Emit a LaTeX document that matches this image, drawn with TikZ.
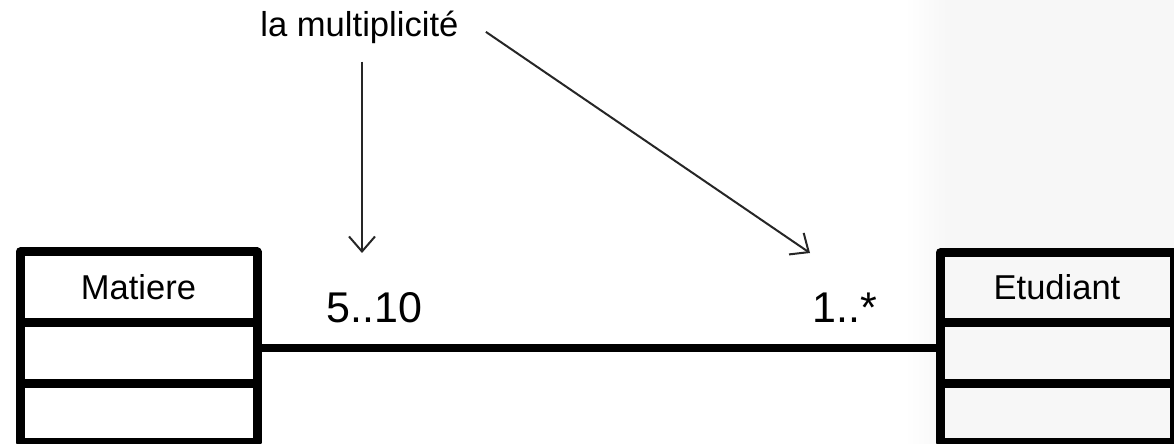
\documentclass[tikz,border=0pt]{standalone}
\usepackage{fontspec}
\setmainfont{Liberation Sans}
\usetikzlibrary{positioning,arrows.meta}
\begin{document}
\begin{tikzpicture}[x=0.5pt, y=-0.5pt, line join=round,
          cls/.style={draw, line width=4.5pt, inner sep=0pt, outer sep=0pt,
            minimum width=118.5pt, font=\fontsize{17.25pt}{20pt}\selectfont},
          mult/.style={anchor=base west, inner sep=0pt, font=\fontsize{21.5pt}{25pt}\selectfont},
          notetxt/.style={anchor=base west, inner sep=0pt, font=\fontsize{17.3pt}{20pt}\selectfont},
          assoc/.style={line width=4pt},
          pointer/.style={line width=1pt, black!85, -{Straight Barb[length=7.5pt, width=13pt, line width=1pt]}}]
        \useasboundingbox (0,0) rectangle (1174,444);
        % light grey band on the right
        \shade[left color=white, right color=black!3] (905,0) rectangle (945,444);
        \fill[black!3] (945,0) rectangle (1174,444);
        % classes
        \node[cls, minimum height=35pt] (matiere) at (138.5,287) {Matiere};
        \node[cls, minimum height=30.5pt, below=0pt of matiere] (matiereattr) {};
        \node[cls, minimum height=29.5pt, below=0pt of matiereattr] (matiereops) {};
        \node[cls, minimum width=117pt, minimum height=34.5pt] (etudiant) at (1057,287.5) {Etudiant};
        \node[cls, minimum width=117pt, minimum height=30.5pt, below=0pt of etudiant] (etudiantattr) {};
        \node[cls, minimum width=117pt, minimum height=29.5pt, below=0pt of etudiantattr] (etudiantops) {};
        \draw[assoc] ([yshift=2.5pt]matiereattr.east) -- ([yshift=2.5pt]etudiantattr.west);
        % multiplicities
        \node[mult] (multmat) at (326,322) {5..10};
        \node[mult] (multetu) at (812,322) {1..*};
        % note
        \node[notetxt] (note) at (260,37) {la multiplicité};
        \coordinate (tipA) at (362,253);
        \coordinate (tipB) at (810,253);
        \draw[pointer] ([yshift=-8.5pt]note.south -| tipA) -- (tipA);
        \draw[pointer] ([xshift=13.5pt, yshift=-2pt]note.east) -- (tipB);
      \end{tikzpicture}
\end{document}
